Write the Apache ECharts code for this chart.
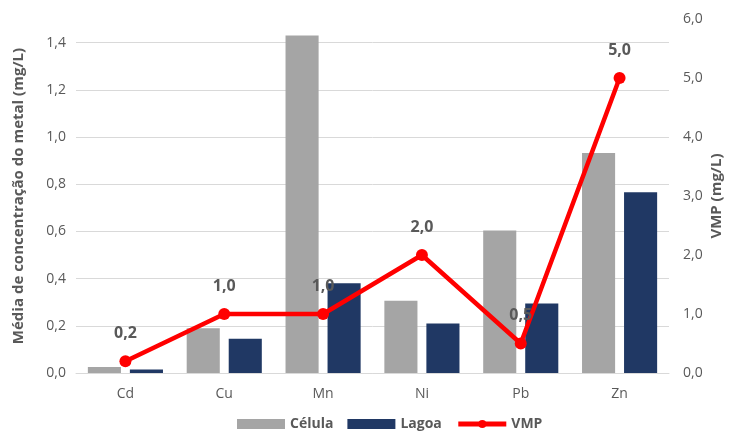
<!DOCTYPE html>
<html>
<head>
<meta charset="utf-8">
<script src="https://cdn.jsdelivr.net/npm/echarts@6/dist/echarts.min.js"></script>
<style>
  html, body { margin: 0; padding: 0; background: #fff; }
  #chart { width: 734px; height: 436px; }
</style>
</head>
<body>
<div id="chart"></div>
<script>
// metals and values
const metals = ['Cd', 'Cu', 'Mn', 'Ni', 'Pb', 'Zn'];
const celula = [0.025, 0.19, 1.43, 0.306, 0.604, 0.932];
const lagoa = [0.015, 0.145, 0.38, 0.21, 0.294, 0.766];
const vmp = [0.2, 1.0, 1.0, 2.0, 0.5, 5.0];

const chartDom = document.getElementById('chart');
const chart = echarts.init(chartDom);

// comma as decimal separator
const fmt1 = function (val) {
    return Number(val).toFixed(1).replace('.', ',');
};

const font = 'Open Sans';
const grey = '#595959';

let option = {
    animation: false,
    textStyle: { fontFamily: font },
    legend: {
        bottom: 0,
        left: 232,
        itemGap: 14,
        itemWidth: 48,
        itemHeight: 10,
        textStyle: { fontSize: 14, fontWeight: 'bold', color: grey, fontFamily: font },
        data: [
            { name: 'Célula', icon: 'rect' },
            { name: 'Lagoa', icon: 'rect' },
            { name: 'VMP', lineStyle: { width: 5 } }
        ]
    },
    grid: {
        left: 76,
        right: 65,
        top: 19,
        bottom: 63,
        outerBoundsMode: 'none'
    },
    xAxis: {
        type: 'category',
        data: metals,
        axisTick: { show: false },
        axisLine: { lineStyle: { color: '#d9d9d9', width: 1 } },
        axisLabel: { color: grey, fontSize: 14, margin: 14, fontFamily: font }
    },
    yAxis: [
        {
            type: 'value',
            min: 0,
            max: 1.5,
            interval: 0.2,
            name: 'Média de concentração do metal (mg/L)',
            nameLocation: 'middle',
            nameGap: 50,
            nameMoveOverlap: false,
            nameTextStyle: { fontSize: 15, fontWeight: 'bold', color: grey, fontFamily: font },
            axisLabel: {
                color: grey,
                fontSize: 14,
                margin: 10,
                showMaxLabel: false,
                formatter: fmt1
            },
            splitLine: { showMaxLine: false, lineStyle: { color: '#d9d9d9', width: 1 } },
            axisLine: { show: false },
            axisTick: { show: false }
        },
        {
            type: 'value',
            min: 0,
            max: 6,
            interval: 1,
            name: 'VMP (mg/L)',
            nameLocation: 'middle',
            nameGap: 40,
            nameMoveOverlap: false,
            nameRotate: 90,
            nameTextStyle: { fontSize: 15, fontWeight: 'bold', color: grey, fontFamily: font },
            axisLabel: { color: grey, fontSize: 14, margin: 14, formatter: fmt1 },
            splitLine: { show: false },
            axisLine: { show: false },
            axisTick: { show: false }
        }
    ],
    series: [
        {
            name: 'Célula',
            type: 'bar',
            barGap: '27%',
            barCategoryGap: '24%',
            itemStyle: { color: '#a5a5a5' },
            data: celula
        },
        {
            name: 'Lagoa',
            type: 'bar',
            itemStyle: { color: '#203864' },
            data: lagoa
        },
        {
            name: 'VMP',
            type: 'line',
            yAxisIndex: 1,
            symbol: 'circle',
            symbolSize: 12,
            lineStyle: { color: '#ff0000', width: 4.5 },
            itemStyle: { color: '#ff0000' },
            label: {
                show: true,
                position: 'top',
                distance: 14,
                fontSize: 16,
                fontWeight: 'bold',
                color: grey,
                fontFamily: font,
                formatter: function (p) { return fmt1(p.value); }
            },
            z: 5,
            data: vmp
        }
    ]
};

option && chart.setOption(option);
</script>
</body>
</html>
